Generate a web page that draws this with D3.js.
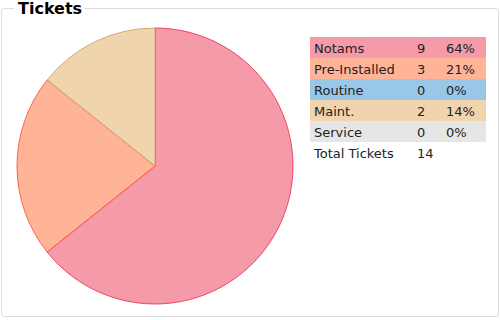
<!DOCTYPE html>
<html>
<head>
<meta charset="utf-8">
<script src="https://cdn.jsdelivr.net/npm/d3@7"></script>
<style>
  html, body { margin: 0; padding: 0; background: #fff; }
  svg { display: block; font-family: "DejaVu Sans", sans-serif; }
</style>
</head>
<body>
<svg id="chart" width="500" height="320"></svg>
<script>
// Ticket categories and their counts
const categories = ["Notams", "Pre-Installed", "Routine", "Maint.", "Service"];
const counts = [9, 3, 0, 2, 0];
const fills = ["#f59aa8", "#ffb498", "#99c7e8", "#f0d4ae", "#e6e6e6"];
const strokes = ["#e8294f", "#ff4a2a", "#4a90d0", "#c49a60", "#bbbbbb"];
const totalLabel = "Total Tickets";

const svg = d3.select("#chart");

// Group box with title
svg.append("path")
  .attr("d", "M14,8.5 H4.5 Q1.5,8.5 1.5,11.5 V313.5 Q1.5,316.5 4.5,316.5 H495.5 Q498.5,316.5 498.5,313.5 V11.5 Q498.5,8.5 495.5,8.5 H85")
  .attr("fill", "none")
  .attr("stroke", "#dcdcdc")
  .attr("stroke-width", 1);
svg.append("text")
  .attr("x", 18).attr("y", 14)
  .attr("font-size", 16).attr("font-weight", "bold")
  .attr("fill", "#000")
  .text("Tickets");

// Pie
const total = d3.sum(counts);
const data = categories.map((c, i) => ({ name: c, value: counts[i], i }));
const pie = d3.pie().value(d => d.value).sort(null);
const arc = d3.arc().innerRadius(0).outerRadius(138);

const g = svg.append("g").attr("transform", "translate(155,166)");
g.selectAll("path")
  .data(pie(data).filter(d => d.data.value > 0))
  .join("path")
  .attr("d", arc)
  .attr("fill", d => fills[d.data.i])
  .attr("stroke", d => strokes[d.data.i])
  .attr("stroke-opacity", 0.8)
  .attr("stroke-width", 1);

// Summary table
const x = d3.scaleLinear().domain([0, 1]).range([310, 486]);
const y = d3.scaleBand().domain(d3.range(categories.length + 1)).range([37, 163]);
const fmtPct = v => Math.round(v / total * 100) + "%";

const rows = svg.append("g").selectAll("g")
  .data(data)
  .join("g")
  .attr("transform", d => `translate(0,${y(d.i)})`);
rows.append("rect")
  .attr("x", x(0)).attr("width", x(1) - x(0))
  .attr("height", y.bandwidth())
  .attr("fill", d => fills[d.i]);
const ty = y.bandwidth() / 2 + 5;
rows.append("text").attr("x", 314).attr("y", ty).attr("font-size", 13).attr("fill", "#222").text(d => d.name);
rows.append("text").attr("x", 417).attr("y", ty).attr("font-size", 13).attr("fill", "#222").text(d => d.value);
rows.append("text").attr("x", 446).attr("y", ty).attr("font-size", 13).attr("fill", "#222").text(d => fmtPct(d.value));

const totRow = svg.append("g").attr("transform", `translate(0,${y(categories.length)})`);
totRow.append("text").attr("x", 314).attr("y", ty).attr("font-size", 13).attr("fill", "#222").text(totalLabel);
totRow.append("text").attr("x", 417).attr("y", ty).attr("font-size", 13).attr("fill", "#222").text(total);
</script>
</body>
</html>
